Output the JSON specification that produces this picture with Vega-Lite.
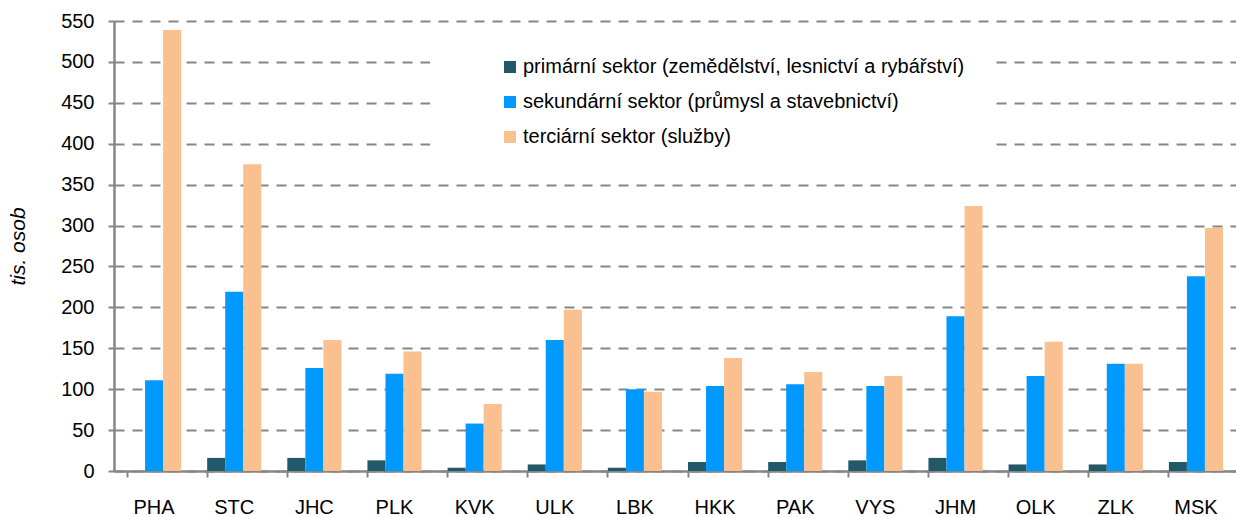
{
  "$schema": "https://vega.github.io/schema/vega-lite/v6.json",
  "autosize": "none",
  "width": 1122,
  "height": 450,
  "padding": {"left": 114, "top": 21, "right": 0, "bottom": 46},
  "background": "white",
  "config": {
    "font": "Liberation Sans",
    "view": {"stroke": null}
  },
  "data": {
    "values": [
      {"kraj": "PHA", "sektor": "primární sektor (zemědělství, lesnictví a rybářství)", "hodnota": 0},
      {"kraj": "PHA", "sektor": "sekundární sektor (průmysl a stavebnictví)", "hodnota": 111},
      {"kraj": "PHA", "sektor": "terciární sektor (služby)", "hodnota": 539},
      {"kraj": "STC", "sektor": "primární sektor (zemědělství, lesnictví a rybářství)", "hodnota": 16},
      {"kraj": "STC", "sektor": "sekundární sektor (průmysl a stavebnictví)", "hodnota": 219},
      {"kraj": "STC", "sektor": "terciární sektor (služby)", "hodnota": 375},
      {"kraj": "JHC", "sektor": "primární sektor (zemědělství, lesnictví a rybářství)", "hodnota": 16},
      {"kraj": "JHC", "sektor": "sekundární sektor (průmysl a stavebnictví)", "hodnota": 126},
      {"kraj": "JHC", "sektor": "terciární sektor (služby)", "hodnota": 160},
      {"kraj": "PLK", "sektor": "primární sektor (zemědělství, lesnictví a rybářství)", "hodnota": 13},
      {"kraj": "PLK", "sektor": "sekundární sektor (průmysl a stavebnictví)", "hodnota": 119},
      {"kraj": "PLK", "sektor": "terciární sektor (služby)", "hodnota": 146},
      {"kraj": "KVK", "sektor": "primární sektor (zemědělství, lesnictví a rybářství)", "hodnota": 4},
      {"kraj": "KVK", "sektor": "sekundární sektor (průmysl a stavebnictví)", "hodnota": 58},
      {"kraj": "KVK", "sektor": "terciární sektor (služby)", "hodnota": 82},
      {"kraj": "ULK", "sektor": "primární sektor (zemědělství, lesnictví a rybářství)", "hodnota": 8},
      {"kraj": "ULK", "sektor": "sekundární sektor (průmysl a stavebnictví)", "hodnota": 160},
      {"kraj": "ULK", "sektor": "terciární sektor (služby)", "hodnota": 197},
      {"kraj": "LBK", "sektor": "primární sektor (zemědělství, lesnictví a rybářství)", "hodnota": 4},
      {"kraj": "LBK", "sektor": "sekundární sektor (průmysl a stavebnictví)", "hodnota": 100},
      {"kraj": "LBK", "sektor": "terciární sektor (služby)", "hodnota": 97},
      {"kraj": "HKK", "sektor": "primární sektor (zemědělství, lesnictví a rybářství)", "hodnota": 11},
      {"kraj": "HKK", "sektor": "sekundární sektor (průmysl a stavebnictví)", "hodnota": 104},
      {"kraj": "HKK", "sektor": "terciární sektor (služby)", "hodnota": 138},
      {"kraj": "PAK", "sektor": "primární sektor (zemědělství, lesnictví a rybářství)", "hodnota": 11},
      {"kraj": "PAK", "sektor": "sekundární sektor (průmysl a stavebnictví)", "hodnota": 106},
      {"kraj": "PAK", "sektor": "terciární sektor (služby)", "hodnota": 121},
      {"kraj": "VYS", "sektor": "primární sektor (zemědělství, lesnictví a rybářství)", "hodnota": 13},
      {"kraj": "VYS", "sektor": "sekundární sektor (průmysl a stavebnictví)", "hodnota": 104},
      {"kraj": "VYS", "sektor": "terciární sektor (služby)", "hodnota": 116},
      {"kraj": "JHM", "sektor": "primární sektor (zemědělství, lesnictví a rybářství)", "hodnota": 16},
      {"kraj": "JHM", "sektor": "sekundární sektor (průmysl a stavebnictví)", "hodnota": 189},
      {"kraj": "JHM", "sektor": "terciární sektor (služby)", "hodnota": 324},
      {"kraj": "OLK", "sektor": "primární sektor (zemědělství, lesnictví a rybářství)", "hodnota": 8},
      {"kraj": "OLK", "sektor": "sekundární sektor (průmysl a stavebnictví)", "hodnota": 116},
      {"kraj": "OLK", "sektor": "terciární sektor (služby)", "hodnota": 158},
      {"kraj": "ZLK", "sektor": "primární sektor (zemědělství, lesnictví a rybářství)", "hodnota": 8},
      {"kraj": "ZLK", "sektor": "sekundární sektor (průmysl a stavebnictví)", "hodnota": 131},
      {"kraj": "ZLK", "sektor": "terciární sektor (služby)", "hodnota": 131},
      {"kraj": "MSK", "sektor": "primární sektor (zemědělství, lesnictví a rybářství)", "hodnota": 11},
      {"kraj": "MSK", "sektor": "sekundární sektor (průmysl a stavebnictví)", "hodnota": 238},
      {"kraj": "MSK", "sektor": "terciární sektor (služby)", "hodnota": 297}
    ]
  },
  "mark": {"type": "bar"},
  "encoding": {
    "x": {
      "field": "kraj",
      "type": "nominal",
      "sort": null,
      "scale": {"paddingInner": 0.325, "paddingOuter": 0.1625},
      "axis": {
        "title": null,
        "labelAngle": 0,
        "labelFont": "Liberation Sans",
        "labelFontSize": 20,
        "labelColor": "black",
        "labelPadding": 20,
        "bandPosition": 0,
        "domainColor": "#868686",
        "domainWidth": 2.5,
        "tickColor": "#868686",
        "tickWidth": 2,
        "tickSize": 6,
        "grid": false
      }
    },
    "xOffset": {
      "field": "sektor",
      "type": "nominal",
      "sort": null,
      "scale": {"paddingInner": 0, "paddingOuter": 0}
    },
    "y": {
      "field": "hodnota",
      "type": "quantitative",
      "scale": {"domain": [0, 550], "nice": false},
      "axis": {
        "title": "tis. osob",
        "titleFont": "Liberation Sans",
        "titleFontSize": 21,
        "titleFontStyle": "italic",
        "titleFontWeight": "normal",
        "titleColor": "black",
        "titlePadding": 32,
        "values": [0, 50, 100, 150, 200, 250, 300, 350, 400, 450, 500, 550],
        "labelFont": "Liberation Sans",
        "labelFontSize": 20,
        "labelColor": "black",
        "labelPadding": 14,
        "domainColor": "#868686",
        "domainWidth": 2.5,
        "tickColor": "#868686",
        "tickWidth": 2,
        "tickSize": 6,
        "grid": true,
        "gridColor": "#868686",
        "gridWidth": 2,
        "gridDash": [10, 8]
      }
    },
    "color": {
      "field": "sektor",
      "type": "nominal",
      "sort": null,
      "scale": {
        "domain": [
          "primární sektor (zemědělství, lesnictví a rybářství)",
          "sekundární sektor (průmysl a stavebnictví)",
          "terciární sektor (služby)"
        ],
        "range": ["#215968", "#0099FF", "#FAC090"]
      },
      "legend": {
        "title": null,
        "orient": "none",
        "legendX": 316,
        "legendY": 11,
        "direction": "vertical",
        "fillColor": "white",
        "padding": 25,
        "symbolType": "square",
        "symbolSize": 144,
        "symbolStrokeWidth": 0,
        "symbolOffset": 45,
        "labelFont": "Liberation Sans",
        "labelFontSize": 20,
        "labelColor": "black",
        "labelOffset": 3,
        "labelLimit": 700,
        "rowPadding": 15
      }
    }
  }
}
